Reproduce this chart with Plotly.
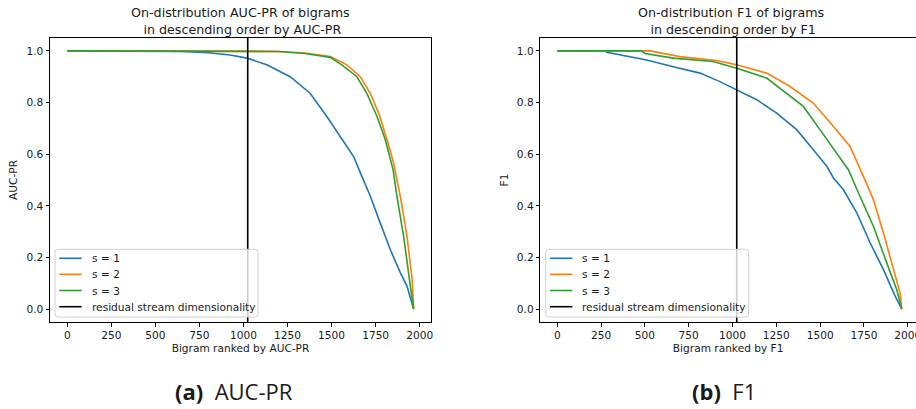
import plotly.graph_objects as go

# ---------------- data ----------------
RESID_DIM = 1024

# (a) AUC-PR
auc_s1_x = [0, 500, 650, 800, 924, 1020, 1132, 1265, 1378, 1473, 1549, 1625, 1672, 1720, 1776, 1833, 1890, 1928, 1947, 1966]
auc_s1_y = [1.0, 1.0, 0.998, 0.993, 0.984, 0.972, 0.946, 0.900, 0.836, 0.746, 0.669, 0.591, 0.514, 0.437, 0.334, 0.231, 0.141, 0.089, 0.044, 0.0]
auc_s2_x = [0, 1000, 1200, 1350, 1493, 1587, 1663, 1720, 1767, 1815, 1852, 1871, 1890, 1928, 1957, 1966]
auc_s2_y = [1.0, 1.0, 0.998, 0.992, 0.978, 0.946, 0.900, 0.836, 0.759, 0.656, 0.566, 0.500, 0.437, 0.282, 0.115, 0.0]
auc_s3_x = [0, 1000, 1200, 1350, 1493, 1560, 1644, 1700, 1758, 1805, 1849, 1871, 1909, 1947, 1966]
auc_s3_y = [1.0, 1.0, 0.998, 0.990, 0.975, 0.945, 0.900, 0.836, 0.746, 0.656, 0.540, 0.437, 0.282, 0.089, 0.0]

# (b) F1
f1_s1_x = [0, 276, 282, 510, 662, 815, 928, 1005, 1024, 1138, 1252, 1366, 1461, 1538, 1576, 1632, 1709, 1785, 1861, 1928, 1966]
f1_s1_y = [1.0, 1.0, 0.995, 0.965, 0.939, 0.914, 0.881, 0.856, 0.849, 0.811, 0.759, 0.695, 0.617, 0.553, 0.508, 0.463, 0.373, 0.257, 0.153, 0.050, 0.0]
f1_s2_x = [0, 529, 700, 910, 1024, 1195, 1328, 1461, 1576, 1671, 1747, 1804, 1861, 1918, 1956, 1966]
f1_s2_y = [1.0, 1.0, 0.978, 0.963, 0.946, 0.914, 0.862, 0.798, 0.707, 0.630, 0.514, 0.424, 0.295, 0.153, 0.063, 0.0]
f1_s3_x = [0, 482, 500, 662, 890, 1024, 1195, 1309, 1404, 1499, 1595, 1661, 1727, 1804, 1880, 1937, 1966]
f1_s3_y = [1.0, 1.0, 0.990, 0.972, 0.959, 0.933, 0.895, 0.836, 0.785, 0.695, 0.605, 0.540, 0.437, 0.321, 0.179, 0.076, 0.0]

series_names = ["s = 1", "s = 2", "s = 3"]
line_name = "residual stream dimensionality"
x_ticks = [0, 250, 500, 750, 1000, 1250, 1500, 1750, 2000]
y_ticks = [0.0, 0.2, 0.4, 0.6, 0.8, 1.0]

# ---------------- styling ----------------
COLORS = ["#1f77b4", "#ff7f0e", "#2ca02c"]
FONT = "DejaVu Sans"
TXT = "#1a1a1a"
W, H = 916, 409
Y_RANGE = [-0.05, 1.05]
LEFT_XRANGE = [-98.3, 2064.3]
RIGHT_XRANGE = [-97.0, 2047.0]
LW = 1.6


def px(xp):
    return xp / W


def py(yp):
    return (H - yp) / H


fig = go.Figure()

panels = [
    ([auc_s1_x, auc_s2_x, auc_s3_x], [auc_s1_y, auc_s2_y, auc_s3_y], "x", "y"),
    ([f1_s1_x, f1_s2_x, f1_s3_x], [f1_s1_y, f1_s2_y, f1_s3_y], "x2", "y2"),
]
for xs_list, ys_list, xa, ya in panels:
    for name, xs, ys, c in zip(series_names, xs_list, ys_list, COLORS):
        fig.add_trace(go.Scatter(x=xs, y=ys, mode="lines", name=name,
                                 line=dict(color=c, width=LW),
                                 xaxis=xa, yaxis=ya, showlegend=False))
    fig.add_trace(go.Scatter(x=[RESID_DIM, RESID_DIM], y=Y_RANGE, mode="lines",
                             name=line_name, line=dict(color="black", width=LW),
                             xaxis=xa, yaxis=ya, showlegend=False))

ydom = [py(322), py(38)]
ldom = [px(50), px(431)]
rdom = [px(540.3), 1.0]

axis_common = dict(showline=True, mirror=True, linecolor="black", linewidth=1,
                   ticks="outside", ticklen=3.5, tickwidth=1, tickcolor="black",
                   showgrid=False, zeroline=False, automargin=False,
                   tickfont=dict(family=FONT, size=10.6, color=TXT))

fig.update_layout(
    width=W, height=H, margin=dict(l=0, r=0, t=0, b=0, autoexpand=False),
    paper_bgcolor="white", plot_bgcolor="white",
    font=dict(family=FONT, size=10.6, color=TXT),
    showlegend=False,
    xaxis=dict(domain=ldom, range=LEFT_XRANGE, tickvals=x_ticks, anchor="y",
               title=dict(text="Bigram ranked by AUC-PR", font=dict(size=10.6), standoff=4),
               **axis_common),
    yaxis=dict(domain=ydom, range=Y_RANGE, tickvals=y_ticks, tickformat=".1f", anchor="x",
               title=dict(text="AUC-PR", font=dict(size=10.6), standoff=6),
               **axis_common),
    xaxis2=dict(domain=rdom, range=RIGHT_XRANGE, tickvals=x_ticks, anchor="y2",
                ticklabeloverflow="allow",
                title=dict(text="Bigram ranked by F1", font=dict(size=10.6), standoff=4),
                **axis_common),
    yaxis2=dict(domain=ydom, range=Y_RANGE, tickvals=y_ticks, tickformat=".1f", anchor="x2",
                title=dict(text="F1", font=dict(size=10.6), standoff=6),
                **axis_common),
)

# titles
titles = [
    ("On-distribution AUC-PR of bigrams<br> in descending order by AUC-PR", (50 + 431) / 2),
    ("On-distribution F1 of bigrams<br> in descending order by F1", (540.3 + 921.3) / 2),
]
for text, xc in titles:
    fig.add_annotation(text=text, x=px(xc), y=py(20.5), xref="paper", yref="paper",
                       xanchor="center", yanchor="middle", showarrow=False,
                       font=dict(family=FONT, size=12.7, color=TXT))

# captions
captions = [("<b>(a)</b>  AUC-PR", 234), ("<b>(b)</b>  F1", 723.5)]
for text, xc in captions:
    fig.add_annotation(text=text, x=px(xc), y=py(391), xref="paper", yref="paper",
                       xanchor="center", yanchor="middle", showarrow=False,
                       font=dict(family="Open Sans", size=22, color=TXT))


# hand-drawn matplotlib-style legends
def rounded_rect(x0, y0, x1, y1, r):
    X0, X1 = px(x0), px(x1)
    Y0, Y1 = py(y0), py(y1)  # Y0 top, Y1 bottom
    rx, ry = r / W, r / H
    return (f"M {X0+rx},{Y0} L {X1-rx},{Y0} Q {X1},{Y0} {X1},{Y0-ry} "
            f"L {X1},{Y1+ry} Q {X1},{Y1} {X1-rx},{Y1} L {X0+rx},{Y1} "
            f"Q {X0},{Y1} {X0},{Y1+ry} L {X0},{Y0-ry} Q {X0},{Y0} {X0+rx},{Y0} Z")


legend_names = series_names + [line_name]
legend_colors = COLORS + ["black"]
row_y = [258.3, 274.3, 290.5, 306.7]
for box_left in [55.0, 545.7]:
    fig.add_shape(type="path", path=rounded_rect(box_left, 249.3, box_left + 203, 317, 3),
                  xref="paper", yref="paper",
                  fillcolor="rgba(255,255,255,0.8)", line=dict(color="#d0d0d0", width=1),
                  layer="above")
    for name, c, yy in zip(legend_names, legend_colors, row_y):
        fig.add_shape(type="line", x0=px(box_left + 4.3), x1=px(box_left + 26.7),
                      y0=py(yy), y1=py(yy), xref="paper", yref="paper",
                      line=dict(color=c, width=LW), layer="above")
        fig.add_annotation(text=name, x=px(box_left + 34.5), y=py(yy), xref="paper", yref="paper",
                           xanchor="left", yanchor="middle", showarrow=False,
                           font=dict(family=FONT, size=10.6, color=TXT))

fig.write_html("out.html")
